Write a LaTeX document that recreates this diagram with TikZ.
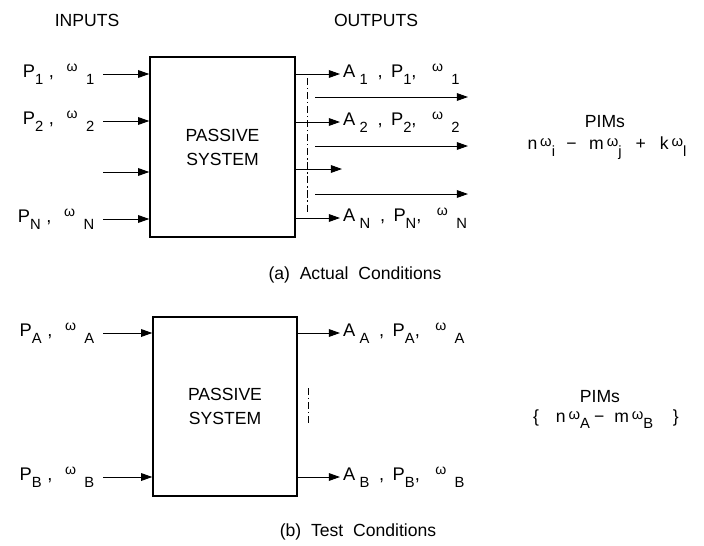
\documentclass[tikz,border=0pt]{standalone}
\usepackage{fontspec}
\setmainfont{Liberation Sans}
\usetikzlibrary{arrows.meta}

% pedici, omega piccolo e alzato
\newcommand{\lo}[1]{\raisebox{-0.7ex}{\fontsize{10.5}{11}\selectfont #1}}
\newcommand{\om}{\raisebox{0.65ex}{\fontsize{10}{11}\selectfont ω}}
\newcommand{\omb}{\raisebox{0.3ex}{\fontsize{10.5}{11}\selectfont ω}}
\newcommand{\pw}[1]{P\lo{#1}\hspace{4pt},\hspace{9pt}\om\hspace{6pt}\lo{#1}}
\newcommand{\apw}[1]{A\hspace{3pt}\lo{#1}\hspace{7pt},\hspace{6pt}P\lo{#1},\hspace{11pt}\om\hspace{6pt}\lo{#1}}

\tikzset{
  sysbox/.style={draw, line width=1pt, align=center, font=\fontsize{12.5}{17}\selectfont},
  sig/.style={-{Triangle[length=8pt,width=5.5pt]}, line width=0.7pt},
  inlbl/.style={anchor=mid east, inner xsep=6pt, font=\fontsize{13}{15}\selectfont},
  outlbl/.style={anchor=mid west, inner xsep=2pt, font=\fontsize{13}{15}\selectfont},
  tapline/.style={line width=0.4pt, dash pattern=on 5pt off 2pt on 1pt off 2pt},
  heading/.style={font=\fontsize{12.5}{14}\selectfont},
  pimtext/.style={font=\fontsize{12.5}{14}\selectfont},
  caption/.style={font=\fontsize{12.5}{14}\selectfont},
}

\begin{document}
\begin{tikzpicture}[x=0.025cm, y=-0.025cm]
  \useasboundingbox (0,0) rectangle (704,546);

  % (a) Condizioni reali
  \node[heading] (inhead) at (87,20) {INPUTS};
  \node[heading] (outhead) at (376,20) {OUTPUTS};

  \node[sysbox, minimum width=3.625cm, minimum height=4.5cm] (sysa) at (222.5,147) {PASSIVE\\SYSTEM};

  % Ingressi
  \node[inlbl] (ina1) at (103,74) {\pw{1}};
  \node[inlbl] (ina2) at (103,121) {\pw{2}};
  \coordinate (ina3) at (103,172);
  \node[inlbl] (inaN) at (103,219) {\pw{N}};
  \foreach \n in {ina1,ina2,inaN}
    \draw[sig] (\n.mid east) -- (\n.mid east -| sysa.west);
  \draw[sig] (ina3) -- (ina3 -| sysa.west);

  % Uscite
  \node[outlbl] (outa1) at (340,74) {\apw{1}};
  \node[outlbl] (outa2) at (340,122) {\apw{2}};
  \coordinate (outa3) at (342,169);
  \node[outlbl] (outaN) at (340,218) {\apw{N}};
  \foreach \n in {outa1,outa2,outaN}
    \draw[sig] (sysa.east |- \n.mid west) -- (\n.mid west);
  \draw[sig] (sysa.east |- outa3) -- (outa3);

  % Linea tratteggiata e frecce passanti
  \coordinate (dtopa) at (307,78);
  \coordinate (dbota) at (307,212);
  \draw[tapline] (dtopa) -- (dbota);
  \foreach \y [count=\i] in {97,146,194} {
    \coordinate (tap\i) at (315,\y);
    \coordinate (thru\i) at (468,\y);
    \draw[sig] (tap\i) -- (thru\i);
  }

  % PIM
  \node[pimtext] (pimsa) at (605,122) {PIMs};
  \node[pimtext] (mixa) at (607,148) {n\,\omb\lo{i}\hspace{8pt}−\hspace{9pt}m\,\omb\lo{j}\hspace{10pt}+\hspace{10pt}k\,\omb\lo{l}};

  \node[caption] (capa) at (355,275) {(a)\ \ Actual\ \ Conditions};

  % (b) Condizioni di prova
  \node[sysbox, minimum width=3.6cm, minimum height=4.475cm] (sysb) at (225,406.5) {PASSIVE\\SYSTEM};

  \node[inlbl] (inbA) at (103,333) {\pw{A}};
  \node[inlbl] (inbB) at (103,477) {\pw{B}};
  \foreach \n in {inbA,inbB}
    \draw[sig] (\n.mid east) -- (\n.mid east -| sysb.west);

  \node[outlbl] (outbA) at (340,333) {\apw{A}};
  \node[outlbl] (outbB) at (340,477) {\apw{B}};
  \foreach \n in {outbA,outbB}
    \draw[sig] (sysb.east |- \n.mid west) -- (\n.mid west);

  \coordinate (dtopb) at (308,388);
  \coordinate (dbotb) at (308,423);
  \draw[tapline] (dtopb) -- (dbotb);

  \node[pimtext] (pimsb) at (600,397) {PIMs};
  \node[pimtext] (mixb) at (606,419) {\{\hspace{12pt}n\,\omb\lo{A}\hspace{3pt}−\hspace{7pt}m\,\omb\lo{B}\hspace{14pt}\}};

  \node[caption] (capb) at (358,532) {(b)\ \ Test\ \ Conditions};
\end{tikzpicture}
\end{document}
